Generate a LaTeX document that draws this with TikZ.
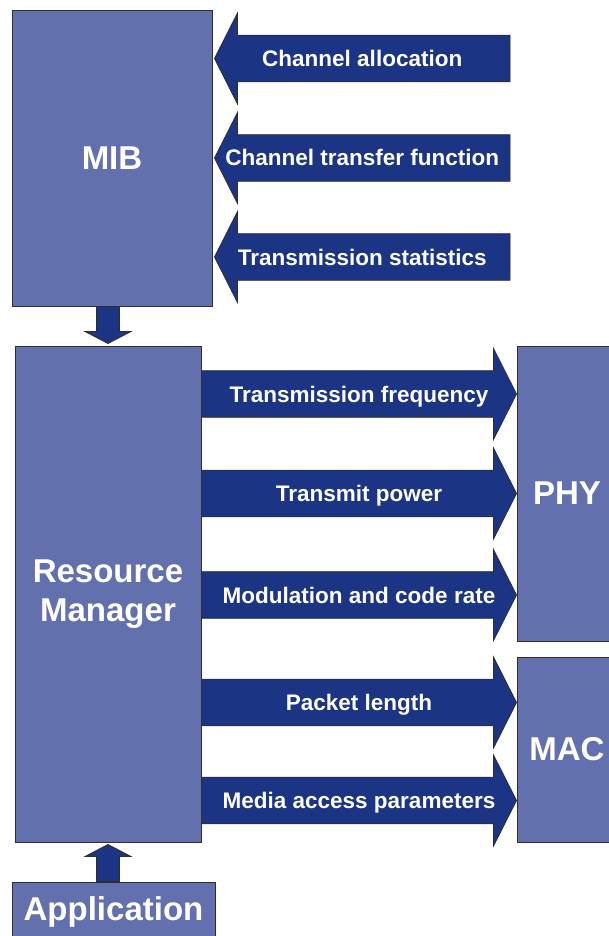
\documentclass[tikz,border=0pt]{standalone}
\usepackage{fontspec}
\setmainfont{Liberation Sans}
\usetikzlibrary{calc}
\definecolor{boxblue}{RGB}{98,113,174}
\definecolor{arrowblue}{RGB}{27,52,132}
\definecolor{edgegray}{RGB}{45,45,50}
\newcommand{\rightblock}[4]{%
  \coordinate (#1s) at (rm.east |- 0,#3);
  \coordinate (#1t) at (#2.west |- 0,#3);
  \draw[barrow] ($(#1s)+(0,-23.3)$) -- ($(#1t)+(-23,-23.3)$) -- ($(#1t)+(-23,-45.5)$) -- (#1t) -- ($(#1t)+(-23,45.5)$) -- ($(#1t)+(-23,23.3)$) -- ($(#1s)+(0,23.3)$) -- cycle;
  \node[alabel] (#1) at ($(#1s)!0.5!(#1t)$) {#4};
}
\newcommand{\leftblock}[3]{%
  \coordinate (#1e) at (mib.east |- 0,#2);
  \coordinate (#1t) at ($(#1e)+(2,0)$);
  \coordinate (#1s) at (510,#2);
  \draw[barrow] ($(#1s)+(0,-23.3)$) -- ($(#1t)+(23,-23.3)$) -- ($(#1t)+(23,-45.5)$) -- (#1t) -- ($(#1t)+(23,45.5)$) -- ($(#1t)+(23,23.3)$) -- ($(#1s)+(0,23.3)$) -- cycle;
  \node[alabel] (#1) at ($(#1s)!0.5!(#1t)$) {#3};
}
\begin{document}
\begin{tikzpicture}[x=1pt,y=-1pt,
 box/.style={draw=edgegray, line width=1pt, fill=boxblue, inner sep=0pt, text=white, font=\bfseries\fontsize{33}{39}\selectfont, align=center},
 barrow/.style={draw=edgegray, line width=0.8pt, fill=arrowblue, line join=miter},
 alabel/.style={text=white, font=\bfseries\fontsize{22.5}{24}\selectfont, inner sep=0pt, text height=16pt, text depth=0pt}]
\fill[white] (0,0) rectangle (609,936);
\useasboundingbox (0,0) rectangle (609,936);
% boxes
\node[box, minimum width=200pt, minimum height=295pt] (mib) at (112,158.5) {MIB};
\node[box, minimum width=186pt, minimum height=496pt] (rm) at (108,594) {Resource\\Manager};
\node[box, minimum width=120pt, minimum height=295pt] (phy) at (577,493.5) {\hspace*{-20pt}PHY};
\node[box, minimum width=120pt, minimum height=185pt] (mac) at (577,749.5) {\hspace*{-20pt}MAC};
\node[box, minimum width=203pt, minimum height=60pt] (app) at (113.5,912) {Application};
% vertical connectors
\coordinate (d0) at (mib.south -| rm.north);
\coordinate (d1) at ($(rm.north)+(0,-2)$);
\draw[barrow] ($(d0)+(-11.5,0)$) -- ($(d1)+(-11.5,-12)$) -- ($(d1)+(-23,-12)$) -- (d1) -- ($(d1)+(23,-12)$) -- ($(d1)+(11.5,-12)$) -- ($(d0)+(11.5,0)$) -- cycle;
\coordinate (u0) at (app.north -| rm.south);
\coordinate (u1) at ($(rm.south)+(0,2)$);
\draw[barrow] ($(u0)+(-11.5,0)$) -- ($(u1)+(-11.5,12)$) -- ($(u1)+(-23,12)$) -- (u1) -- ($(u1)+(23,12)$) -- ($(u1)+(11.5,12)$) -- ($(u0)+(11.5,0)$) -- cycle;
% input arrows to MIB
\leftblock{ca}{58.5}{Channel allocation}
\leftblock{ctf}{158}{Channel transfer function}
\leftblock{ts}{257}{Transmission statistics}
% output arrows
\rightblock{tf}{phy}{394}{Transmission frequency}
\rightblock{tp}{phy}{493.5}{Transmit power}
\rightblock{mcr}{phy}{595}{Modulation and code rate}
\rightblock{pl}{mac}{702.5}{Packet length}
\rightblock{map}{mac}{800.5}{Media access parameters}
\end{tikzpicture}
\end{document}
